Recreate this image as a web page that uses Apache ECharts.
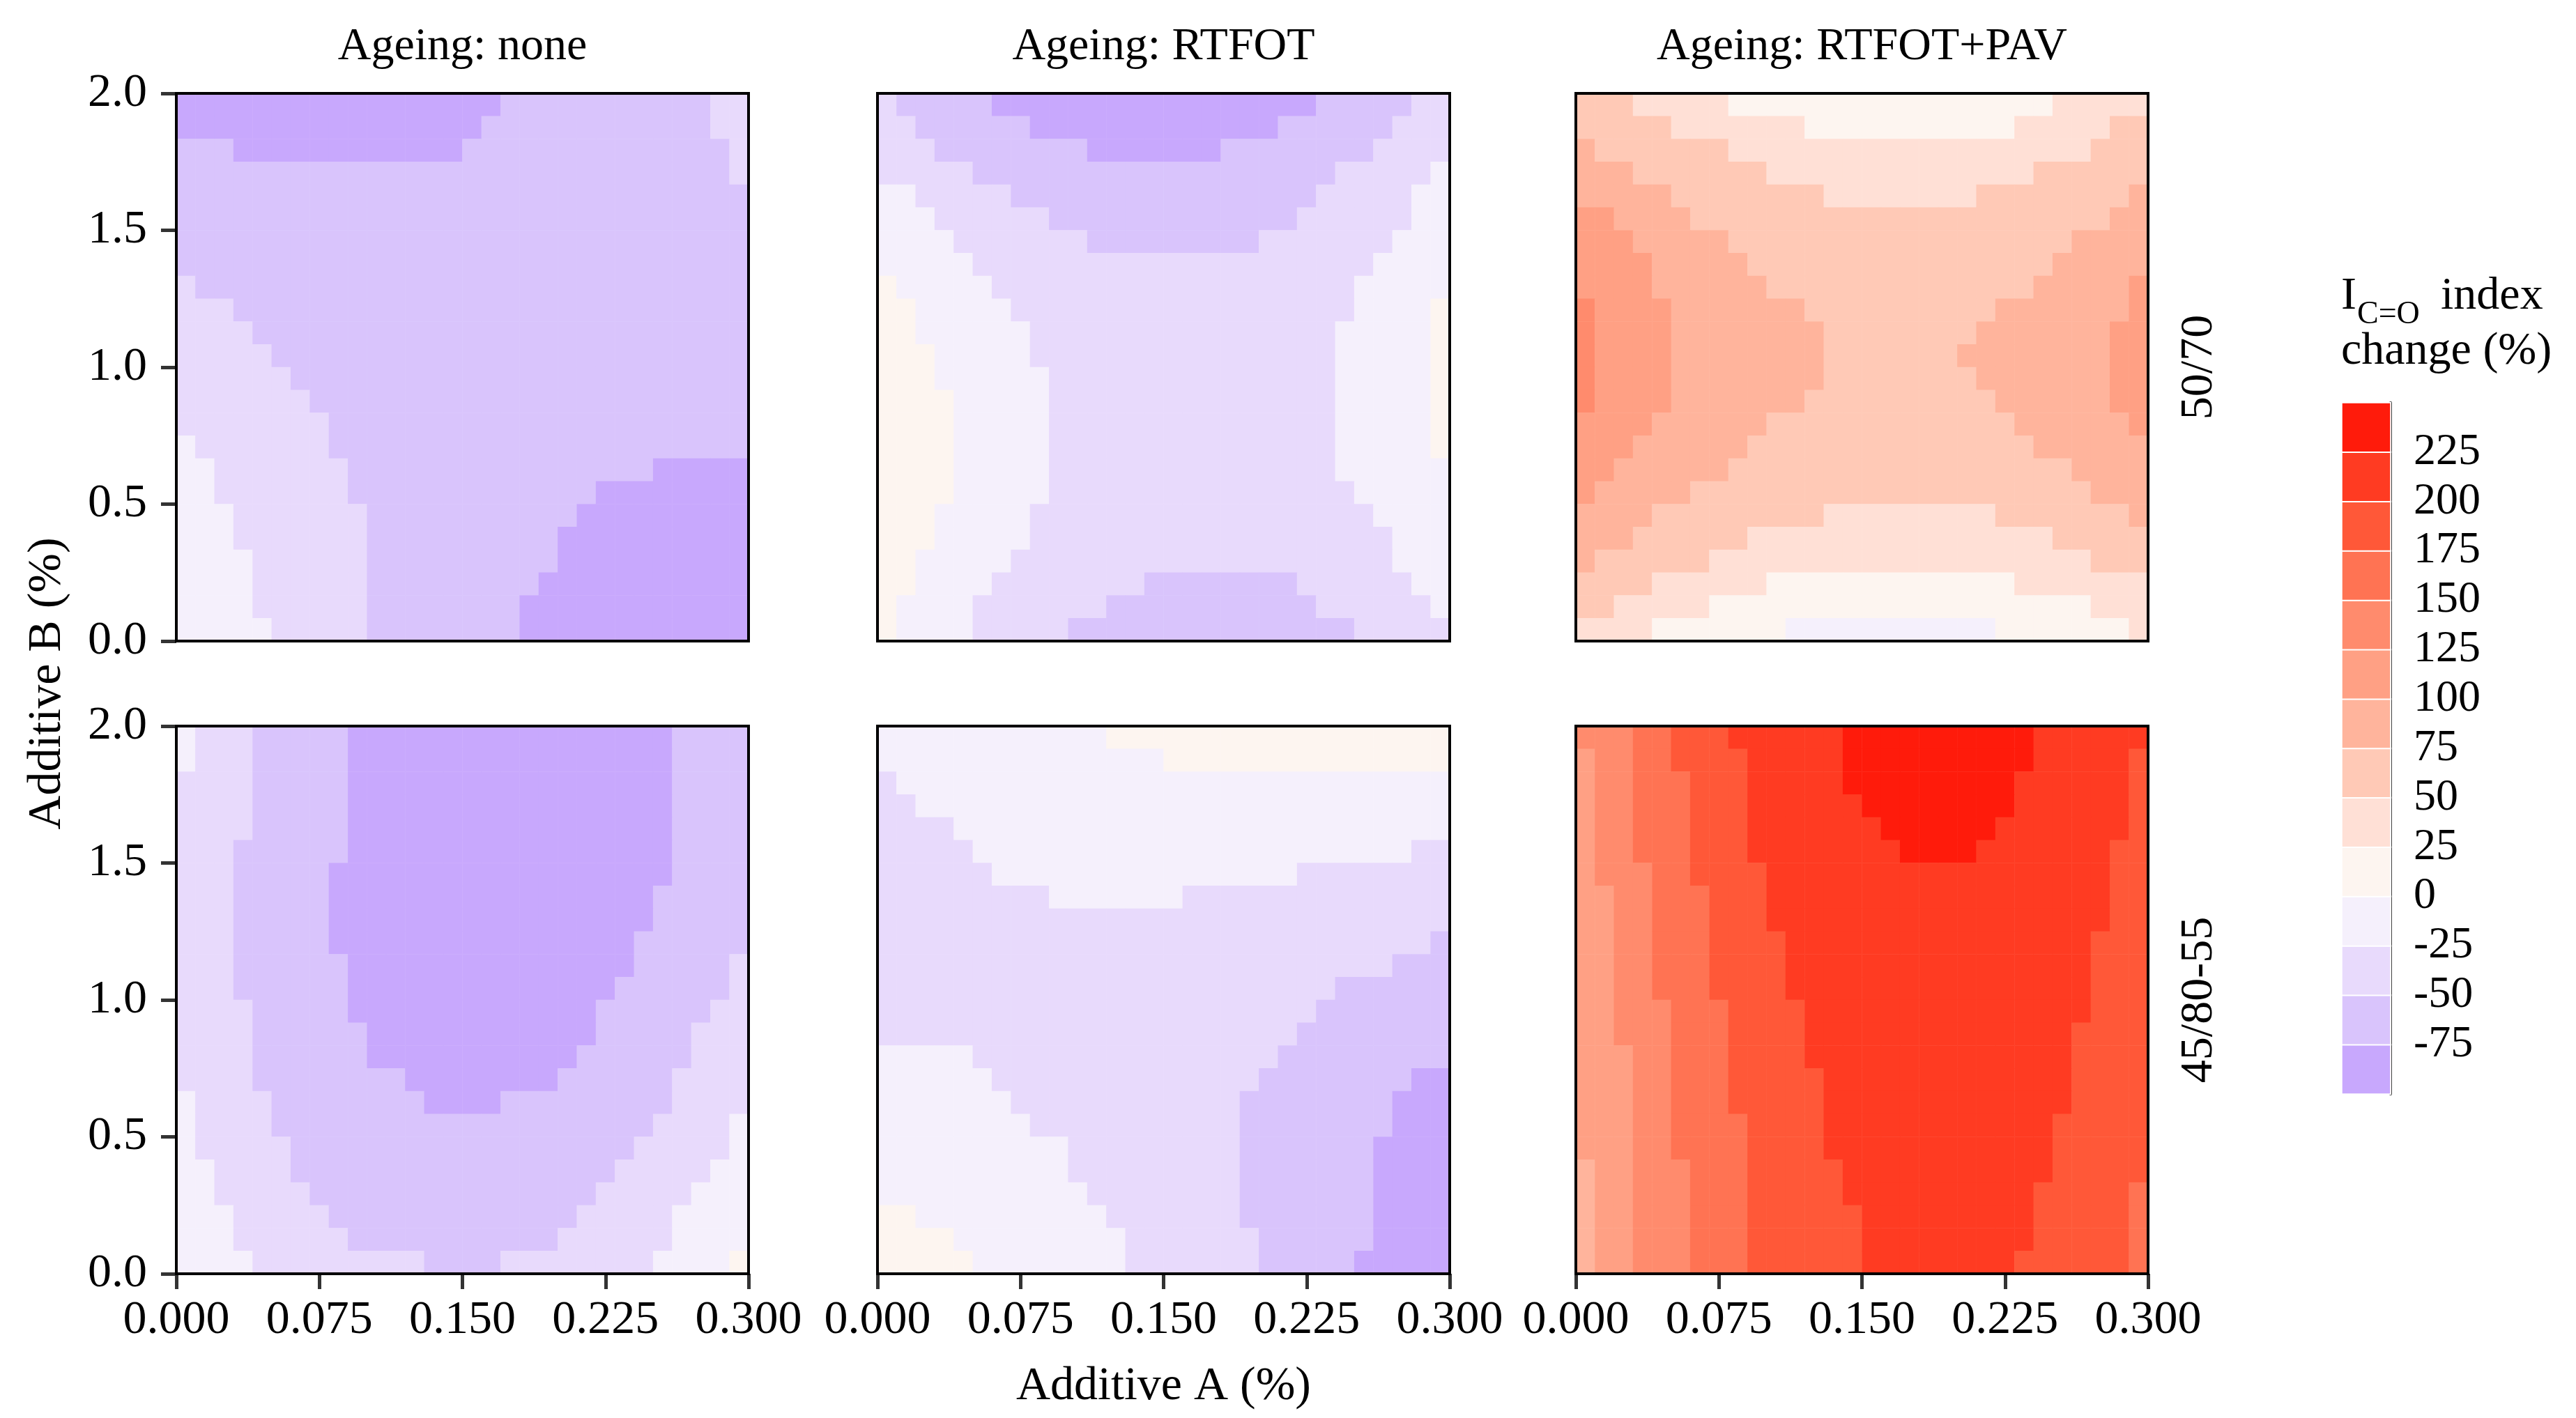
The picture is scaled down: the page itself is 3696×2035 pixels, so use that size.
<!DOCTYPE html>
<html>
<head>
<meta charset="utf-8">
<script src="https://cdn.jsdelivr.net/npm/echarts@6/dist/echarts.min.js"></script>
<style>
html, body { margin: 0; padding: 0; background: #fff; }
#chart { width: 3696px; height: 2035px; }
</style>
</head>
<body>
<div id="chart"></div>
<script>
// colour scale: band edges of the I(C=O) index change (%)
const levelEdges = [-100, -75, -50, -25, 0, 25, 50, 75, 100, 125, 150, 175, 200, 225, 250];
const ageingTitles = ['Ageing: none', 'Ageing: RTFOT', 'Ageing: RTFOT+PAV'];
const binderLabels = ['50/70', '45/80-55'];
const additiveA = { min: 0, max: 0.3, step: 0.075 };
const additiveB = { min: 0, max: 2, step: 0.5 };

// each panel: 30 columns (Additive A) x 24 rows (Additive B, top row first),
// read off the picture as band index runs "band*count" (band 0 = -100..-75, d = 225..250)
const none5070 = [
  '0*17 1*11 2*2', '0*16 1*12 2*2', '1*3 0*12 1*14 2*1', '1*29 2*1',
  '1*30', '1*30', '1*30', '1*30',
  '2*1 1*29', '2*3 1*27', '2*4 1*26', '2*5 1*25',
  '2*6 1*24', '2*7 1*23', '2*8 1*22', '3*1 2*7 1*22',
  '3*2 2*7 1*16 0*5', '3*2 2*7 1*13 0*8', '3*3 2*7 1*11 0*9', '3*3 2*7 1*10 0*10',
  '3*4 2*6 1*10 0*10', '3*4 2*6 1*9 0*11', '3*4 2*6 1*8 0*12', '3*5 2*5 1*8 0*12'
];
const rtfot5070 = [
  '2*1 1*5 0*17 1*5 2*2', '2*2 1*6 0*13 1*6 2*3', '2*3 1*8 0*7 1*8 2*4', '2*5 1*19 2*5 3*1',
  '3*2 2*5 1*16 2*5 3*2', '3*3 2*6 1*13 2*6 3*2', '3*4 2*7 1*9 2*7 3*3', '3*5 2*21 3*4',
  '4*1 3*5 2*19 3*5', '4*2 3*5 2*18 3*4 4*1', '4*2 3*6 2*16 3*5 4*1', '4*3 3*5 2*16 3*5 4*1',
  '4*3 3*6 2*15 3*5 4*1', '4*4 3*5 2*15 3*5 4*1', '4*4 3*5 2*15 3*5 4*1', '4*4 3*5 2*15 3*5 4*1',
  '4*4 3*5 2*15 3*6', '4*4 3*5 2*16 3*5', '4*3 3*5 2*18 3*4', '4*3 3*5 2*19 3*3',
  '4*2 3*5 2*20 3*3', '4*2 3*4 2*8 1*8 2*6 3*2', '4*1 3*4 2*7 1*11 2*6 3*1', '4*1 3*4 2*5 1*15 2*5'
];
const pav5070 = [
  '6*3 5*5 4*17 5*5', '6*5 5*7 4*11 5*5 6*2', '7*1 6*7 5*19 6*3', '7*3 6*7 5*14 6*6',
  '7*5 6*8 5*8 6*8 7*1', '8*2 7*4 6*22 7*2', '8*3 7*5 6*18 7*4', '8*4 7*5 6*16 7*5',
  '8*4 7*6 6*14 7*5 8*1', '9*1 8*4 7*7 6*10 7*7 8*1', '9*1 8*4 7*8 6*8 7*7 8*2', '9*1 8*4 7*8 6*7 7*8 8*2',
  '9*1 8*4 7*8 6*8 7*7 8*2', '9*1 8*4 7*7 6*10 7*6 8*2', '8*4 7*6 6*13 7*6 8*1', '8*3 7*6 6*15 7*6',
  '8*2 7*6 6*18 7*4', '8*1 7*5 6*21 7*3', '7*4 6*9 5*9 6*7 7*1', '7*3 6*6 5*16 6*5',
  '7*1 6*6 5*20 6*3', '6*4 5*6 4*13 5*7', '6*2 5*5 4*20 5*3', '5*4 4*7 3*11 4*7 5*1'
];
const none4580 = [
  '3*1 2*3 1*5 0*17 1*4', '3*1 2*3 1*5 0*17 1*4', '2*4 1*5 0*17 1*4', '2*4 1*5 0*17 1*4',
  '2*4 1*5 0*17 1*4', '2*3 1*6 0*17 1*4', '2*3 1*5 0*18 1*4', '2*3 1*5 0*17 1*5',
  '2*3 1*5 0*17 1*5', '2*3 1*5 0*16 1*6', '2*3 1*6 0*15 1*5 2*1', '2*3 1*6 0*14 1*6 2*1',
  '2*4 1*5 0*13 1*6 2*2', '2*4 1*6 0*12 1*5 2*3', '2*4 1*6 0*11 1*6 2*3', '2*4 1*8 0*8 1*6 2*4',
  '3*1 2*4 1*8 0*4 1*9 2*4', '3*1 2*4 1*20 2*4 3*1', '3*1 2*5 1*18 2*5 3*1', '3*2 2*4 1*17 2*5 3*2',
  '3*2 2*5 1*15 2*5 3*3', '3*3 2*5 1*13 2*5 3*4', '3*3 2*6 1*11 2*6 3*4', '3*4 2*9 1*4 2*8 3*4 4*1'
];
const rtfot4580 = [
  '3*12 4*18', '3*15 4*15', '2*1 3*29', '2*2 3*28',
  '2*4 3*26', '2*5 3*23 2*2', '2*6 3*16 2*8', '2*9 3*7 2*14',
  '2*30', '2*29 1*1', '2*27 1*3', '2*24 1*6',
  '2*23 1*7', '2*22 1*8', '3*5 2*16 1*9', '3*6 2*14 1*8 0*2',
  '3*7 2*12 1*8 0*3', '3*8 2*11 1*8 0*3', '3*10 2*9 1*7 0*4', '3*10 2*9 1*7 0*4',
  '3*11 2*8 1*7 0*4', '4*2 3*10 2*7 1*7 0*4', '4*4 3*9 2*7 1*6 0*4', '4*5 3*8 2*7 1*5 0*5'
];
const pav4580 = [
  '9*3 a*2 b*3 c*6 d*10 c*6', '8*1 9*2 a*2 b*4 c*5 d*10 c*5 b*1',
  '8*1 9*2 a*3 b*3 c*5 d*9 c*6 b*1', '8*1 9*2 a*3 b*3 c*6 d*8 c*6 b*1',
  '8*1 9*2 a*3 b*3 c*7 d*6 c*7 b*1', '8*1 9*2 a*3 b*3 c*8 d*4 c*7 b*2',
  '8*1 9*3 a*2 b*4 c*18 b*2', '8*2 9*2 a*3 b*3 c*18 b*2',
  '8*2 9*2 a*3 b*3 c*18 b*2', '8*2 9*2 a*3 b*4 c*16 b*3',
  '8*2 9*2 a*3 b*4 c*16 b*3', '8*2 9*2 a*3 b*4 c*16 b*3',
  '8*2 9*3 a*3 b*4 c*15 b*3', '8*2 9*3 a*3 b*4 c*14 b*4',
  '8*3 9*2 a*3 b*4 c*14 b*4', '8*3 9*2 a*3 b*5 c*13 b*4',
  '8*3 9*2 a*3 b*5 c*13 b*4', '8*3 9*2 a*4 b*4 c*12 b*5',
  '8*3 9*2 a*4 b*4 c*12 b*5', '7*1 8*2 9*3 a*3 b*5 c*11 b*5',
  '7*1 8*2 9*3 a*3 b*5 c*10 b*5 a*1', '7*1 8*2 9*3 a*3 b*6 c*9 b*5 a*1',
  '7*1 8*2 9*3 a*3 b*6 c*9 b*5 a*1', '7*1 8*2 9*3 a*3 b*6 c*8 b*6 a*1'
];

const bandColors = ['#c8a8fd', '#d9c4fc', '#e8dafc', '#f5f0fc', '#fdf5f0', '#ffe0d6', '#ffc9b6',
  '#ffb49c', '#ffa084', '#ff8b6d', '#ff7353', '#ff5838', '#ff3b22', '#ff1b0b'];

const FONT = 'Liberation Serif';
const colLeft = [253, 1259, 2261];
const rowTop = [134, 1042];
const panelW = 821, panelH = 786;

function bandMid(k) { return (levelEdges[k] + levelEdges[k + 1]) / 2; }

function decodePanel(rows) {
  const out = [];
  rows.forEach((row, r) => {
    let c = 0;
    row.split(' ').forEach(tok => {
      const parts = tok.split('*');
      const lv = parseInt(parts[0], 16);
      for (let k = 0; k < +parts[1]; k++) {
        out.push([c, rows.length - 1 - r, bandMid(lv)]);
        c++;
      }
    });
  });
  return out;
}

const panels = [
  { rows: none5070, col: 0, row: 0 },
  { rows: rtfot5070, col: 1, row: 0 },
  { rows: pav5070, col: 2, row: 0 },
  { rows: none4580, col: 0, row: 1 },
  { rows: rtfot4580, col: 1, row: 1 },
  { rows: pav4580, col: 2, row: 1 }
];

const grid = [], xAxis = [], yAxis = [], series = [];
const labelStyle = { color: '#000', fontFamily: FONT, fontSize: 68 };
const tickStyle = { show: true, length: 22, lineStyle: { color: '#333', width: 5 } };

panels.forEach((p, i) => {
  const nCols = p.rows[0].split(' ').reduce((s, t) => s + +t.split('*')[1], 0);
  const nRows = p.rows.length;
  grid.push({
    left: colLeft[p.col], top: rowTop[p.row], width: panelW, height: panelH,
    show: true, borderColor: '#000', borderWidth: 4, backgroundColor: 'transparent', z: 5
  });
  xAxis.push({ type: 'category', gridIndex: i, position: 'top', show: false,
    data: Array.from({ length: nCols }, (_, k) => k) });
  xAxis.push({
    type: 'value', gridIndex: i, position: 'bottom', show: p.row === 1,
    min: additiveA.min, max: additiveA.max, interval: additiveA.step,
    axisLine: { show: false }, splitLine: { show: false }, axisTick: tickStyle,
    axisLabel: Object.assign({ margin: 33, formatter: v => v.toFixed(3) }, labelStyle)
  });
  yAxis.push({ type: 'category', gridIndex: i, position: 'right', show: false,
    data: Array.from({ length: nRows }, (_, k) => k) });
  yAxis.push({
    type: 'value', gridIndex: i, position: 'left', show: p.col === 0,
    min: additiveB.min, max: additiveB.max, interval: additiveB.step,
    axisLine: { show: false }, splitLine: { show: false }, axisTick: tickStyle,
    axisLabel: Object.assign({ margin: 42, formatter: v => v.toFixed(1) }, labelStyle)
  });
  series.push({
    type: 'heatmap', xAxisIndex: 2 * i, yAxisIndex: 2 * i, z: 2,
    data: decodePanel(p.rows),
    itemStyle: { borderWidth: 0 },
    emphasis: { disabled: true }, silent: true, progressive: 0
  });
});

// colour bar
const cbIndex = panels.length;
grid.push({ left: 3360, top: 578, width: 70, height: 992, show: false });
xAxis.push({ type: 'category', gridIndex: cbIndex, show: false, data: ['bar'] });
yAxis.push({ type: 'category', gridIndex: cbIndex, show: false, position: 'left',
  data: bandColors.map((_, k) => k) });
yAxis.push({
  type: 'value', gridIndex: cbIndex, position: 'right',
  min: levelEdges[0], max: levelEdges[levelEdges.length - 1], interval: 25,
  axisLine: { show: true, lineStyle: { color: '#000', width: 4 } },
  axisTick: { show: true, inside: true, length: 16, lineStyle: { color: '#000', width: 3 } },
  splitLine: { show: false },
  axisLabel: Object.assign({ margin: 33, showMinLabel: false, showMaxLabel: false,
    formatter: v => String(v) }, labelStyle, { fontSize: 64 })
});
series.push({
  type: 'heatmap', xAxisIndex: 2 * cbIndex, yAxisIndex: 2 * cbIndex, z: 2,
  data: bandColors.map((_, k) => [0, k, bandMid(k)]),
  itemStyle: { borderColor: '#fff', borderWidth: 2 },
  emphasis: { disabled: true }, silent: true
});

const pieces = bandColors.map((c, k) => ({ gte: levelEdges[k], lt: levelEdges[k + 1], color: c }));

function textEl(text, x, y, size, extra, align) {
  return Object.assign({
    type: 'text', x: x, y: y, z: 10,
    style: {
      text: text, fill: '#000', font: size + 'px "' + FONT + '"',
      fontFamily: FONT, fontSize: size, align: align || 'center', verticalAlign: 'middle'
    }
  }, extra || {});
}

const graphic = [];
ageingTitles.forEach((t, c) => graphic.push(textEl(t, colLeft[c] + panelW / 2, 68, 66)));
binderLabels.forEach((t, r) => graphic.push(textEl(t, 3156, rowTop[r] + panelH / 2, 66, { rotation: Math.PI / 2 })));
graphic.push(textEl('Additive B (%)', 68, (rowTop[0] + rowTop[1] + panelH) / 2, 68, { rotation: Math.PI / 2 }));
graphic.push(textEl('Additive A (%)', colLeft[1] + panelW / 2, 1990, 68));
// legend title with subscript
graphic.push(textEl('I', 3359, 426, 66, null, 'left'));
graphic.push(textEl('C=O', 3382, 452, 46, null, 'left'));
graphic.push(textEl('index', 3502, 426, 66, null, 'left'));
graphic.push(textEl('change (%)', 3359, 505, 66, null, 'left'));

const chart = echarts.init(document.getElementById('chart'));
chart.setOption({
  animation: false,
  backgroundColor: '#fff',
  grid: grid,
  xAxis: xAxis,
  yAxis: yAxis,
  visualMap: {
    type: 'piecewise', show: false, dimension: 2,
    seriesIndex: series.map((_, k) => k),
    pieces: pieces
  },
  series: series,
  graphic: graphic
});
</script>
</body>
</html>
